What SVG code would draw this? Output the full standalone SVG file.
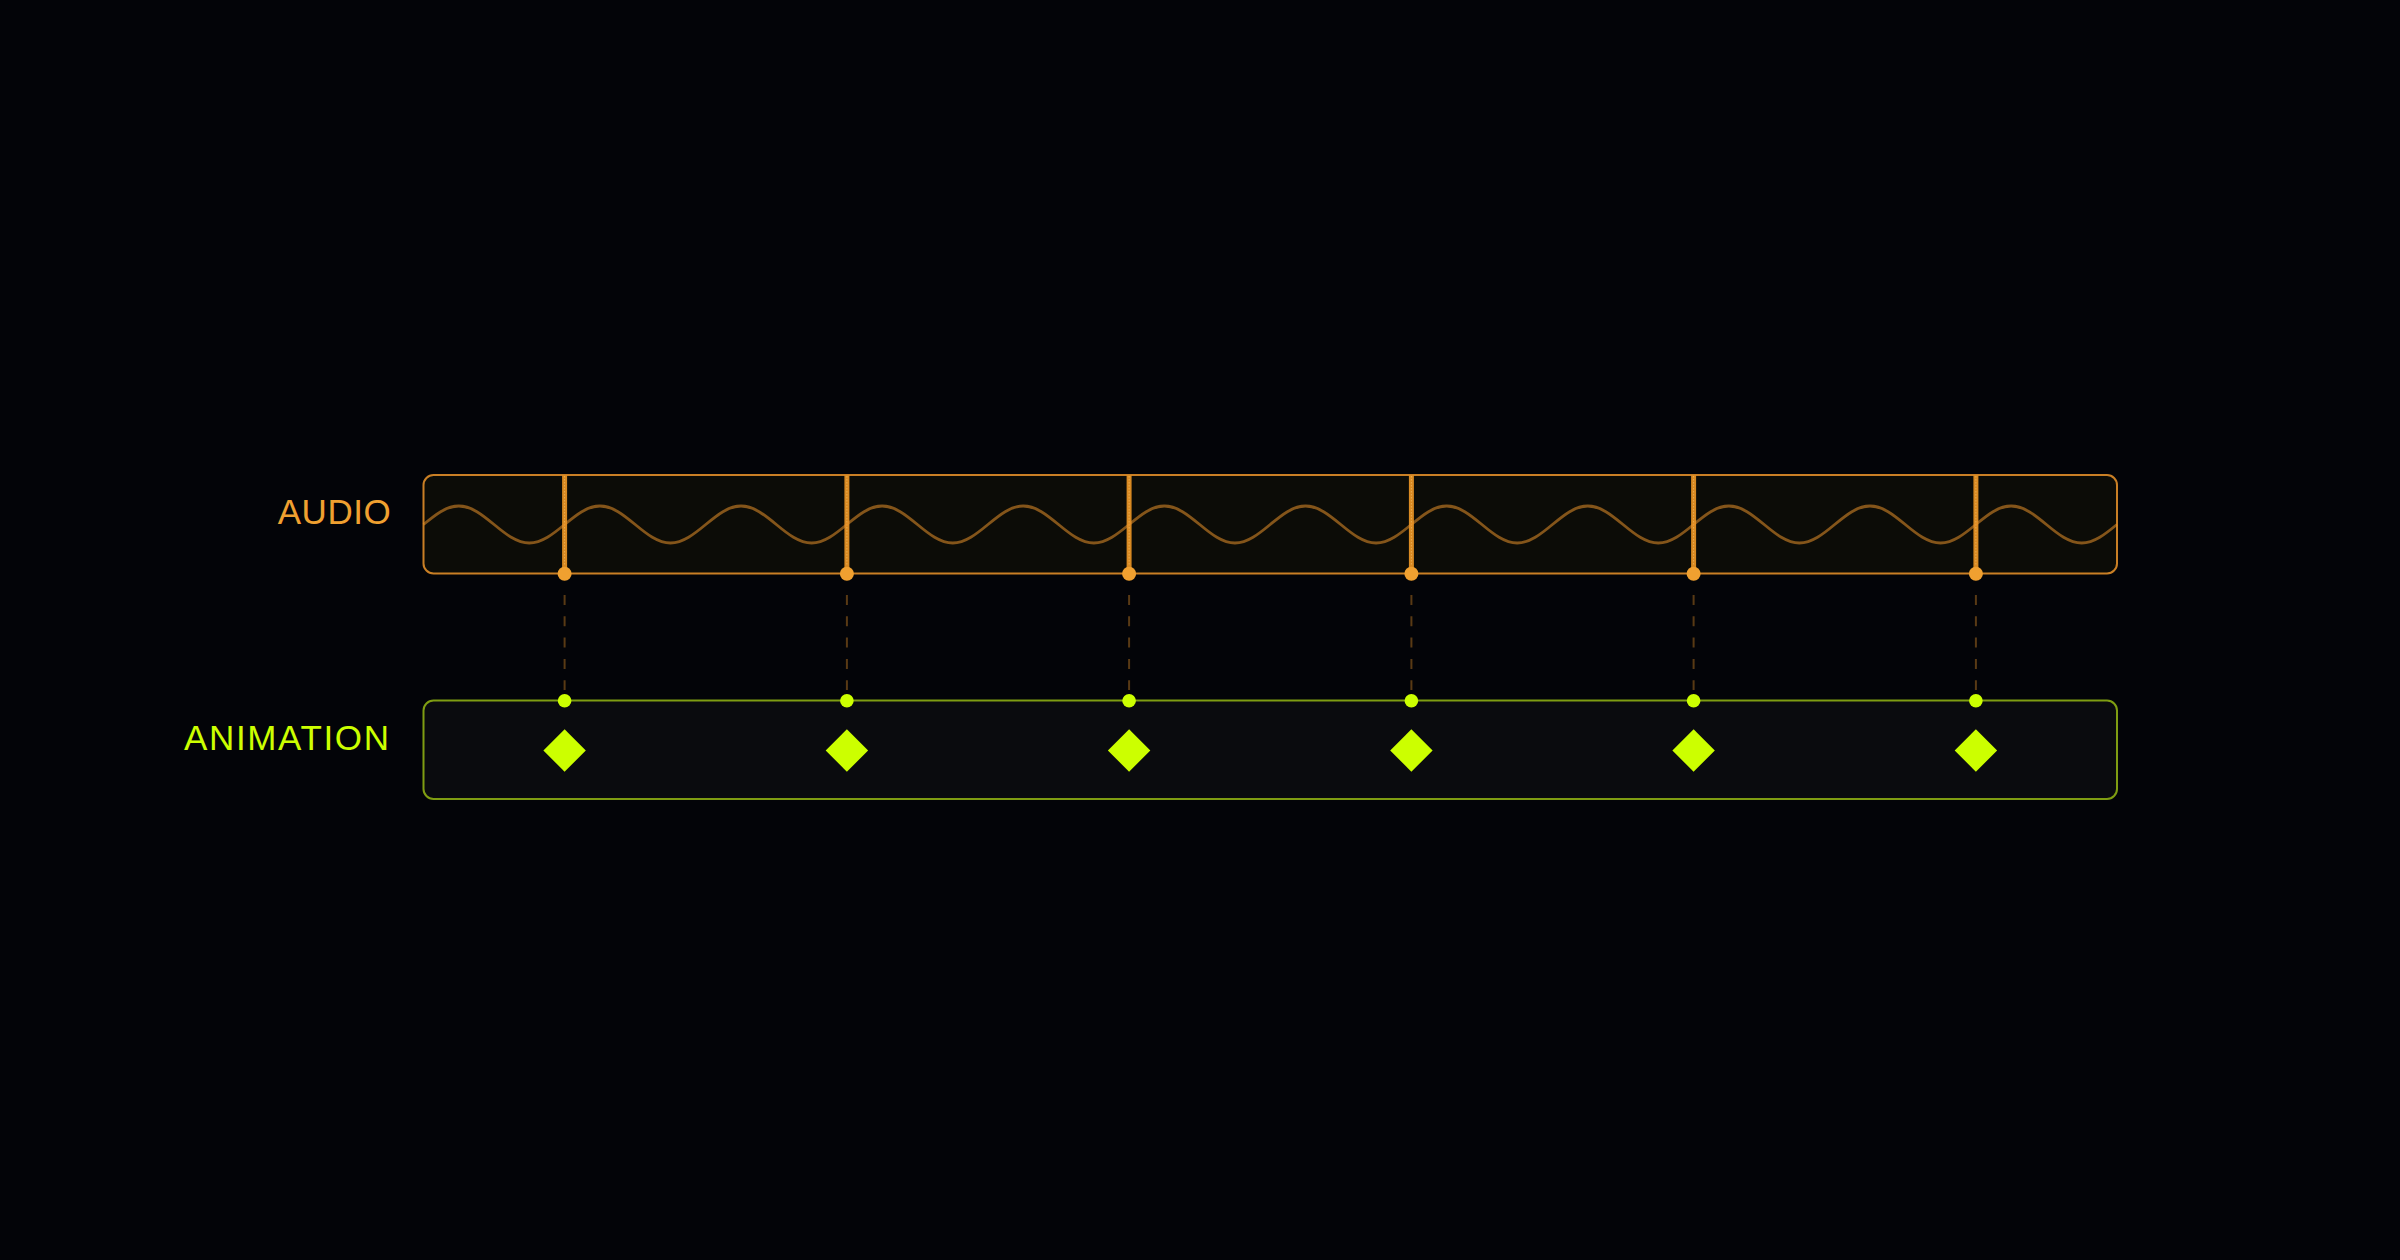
<svg xmlns="http://www.w3.org/2000/svg" width="2400" height="1260" viewBox="0 0 2400 1260">
  <defs>
    <style>
      .bg { fill: #030408; }
      .label { font-family: "Liberation Sans", "DejaVu Sans", sans-serif; font-size: 35px; text-anchor: end; }
      .audio-label { fill: #f0a030; }
      .anim-label { fill: #ccff00; }
      .audio-track { fill: #0c0c07; stroke: #c97f25; stroke-width: 2; }
      .anim-track { fill: #0a0b0e; stroke: #7f9d12; stroke-width: 2; }
      .wave { fill: none; stroke: #e8922a; stroke-opacity: 0.55; stroke-width: 2.8; }
      .beat { stroke: #d98a22; stroke-width: 5; }
      .beat-hi { stroke: #f8c878; stroke-width: 1; stroke-dasharray: 1.5 1.5; stroke-opacity: 0.55; }
      .beat-dot { fill: #f0a030; }
      .sync { stroke: #e8922a; stroke-opacity: 0.38; stroke-width: 2; stroke-dasharray: 10 11.3; }
      .key-dot { fill: #ccff00; }
      .key { fill: #ccff00; }
    </style>
  </defs>
  <rect class="bg" x="0" y="0" width="2400" height="1260"/>

  <g id="audio-track">
    <rect class="audio-track" x="423.5" y="475" width="1693.5" height="98.5" rx="10" ry="10"/>
    <text class="label audio-label" x="390.7" y="524" textLength="113" lengthAdjust="spacing">AUDIO</text>
  </g>

  <g id="animation-track">
    <rect class="anim-track" x="423.5" y="700.5" width="1693.5" height="98.5" rx="10" ry="10"/>
    <text class="label anim-label" x="389" y="749.5" textLength="205" lengthAdjust="spacing">ANIMATION</text>
  </g>

  <g id="beats">
    <line class="beat" x1="564.6" y1="475" x2="564.6" y2="573.5"/>
    <line class="beat" x1="846.9" y1="475" x2="846.9" y2="573.5"/>
    <line class="beat" x1="1129.1" y1="475" x2="1129.1" y2="573.5"/>
    <line class="beat" x1="1411.4" y1="475" x2="1411.4" y2="573.5"/>
    <line class="beat" x1="1693.6" y1="475" x2="1693.6" y2="573.5"/>
    <line class="beat" x1="1975.9" y1="475" x2="1975.9" y2="573.5"/>
    <line class="beat-hi" x1="564.6" y1="476" x2="564.6" y2="566"/>
    <line class="beat-hi" x1="846.9" y1="476" x2="846.9" y2="566"/>
    <line class="beat-hi" x1="1129.1" y1="476" x2="1129.1" y2="566"/>
    <line class="beat-hi" x1="1411.4" y1="476" x2="1411.4" y2="566"/>
    <line class="beat-hi" x1="1693.6" y1="476" x2="1693.6" y2="566"/>
    <line class="beat-hi" x1="1975.9" y1="476" x2="1975.9" y2="566"/>
  </g>

  <g id="waveform">
    <path class="wave" d="M423.5,524.5 c 11.505,-9.477 22.512,-18.5 35.28,-18.5
      s 23.775,9.023 35.28,18.5 s 22.512,18.5 35.28,18.5 s 23.775,-9.023 35.28,-18.5 s 22.512,-18.5 35.28,-18.5
      s 23.775,9.023 35.28,18.5 s 22.512,18.5 35.28,18.5 s 23.775,-9.023 35.28,-18.5 s 22.512,-18.5 35.28,-18.5
      s 23.775,9.023 35.28,18.5 s 22.512,18.5 35.28,18.5 s 23.775,-9.023 35.28,-18.5 s 22.512,-18.5 35.28,-18.5
      s 23.775,9.023 35.28,18.5 s 22.512,18.5 35.28,18.5 s 23.775,-9.023 35.28,-18.5 s 22.512,-18.5 35.28,-18.5
      s 23.775,9.023 35.28,18.5 s 22.512,18.5 35.28,18.5 s 23.775,-9.023 35.28,-18.5 s 22.512,-18.5 35.28,-18.5
      s 23.775,9.023 35.28,18.5 s 22.512,18.5 35.28,18.5 s 23.775,-9.023 35.28,-18.5 s 22.512,-18.5 35.28,-18.5
      s 23.775,9.023 35.28,18.5 s 22.512,18.5 35.28,18.5 s 23.775,-9.023 35.28,-18.5 s 22.512,-18.5 35.28,-18.5
      s 23.775,9.023 35.28,18.5 s 22.512,18.5 35.28,18.5 s 23.775,-9.023 35.28,-18.5 s 22.512,-18.5 35.28,-18.5
      s 23.775,9.023 35.28,18.5 s 22.512,18.5 35.28,18.5 s 23.775,-9.023 35.28,-18.5 s 22.512,-18.5 35.28,-18.5
      s 23.775,9.023 35.28,18.5 s 22.512,18.5 35.28,18.5 s 23.775,-9.023 35.28,-18.5 s 22.512,-18.5 35.28,-18.5
      s 23.775,9.023 35.28,18.5 s 22.512,18.5 35.28,18.5 s 23.775,-9.023 35.28,-18.5 s 22.512,-18.5 35.28,-18.5
      s 23.775,9.023 35.28,18.5 s 22.512,18.5 35.28,18.5 s 23.775,-9.023 35.28,-18.5"/>
  </g>

  <g id="connectors">
    <line class="sync" x1="564.6" y1="595" x2="564.6" y2="690"/>
    <line class="sync" x1="846.9" y1="595" x2="846.9" y2="690"/>
    <line class="sync" x1="1129.1" y1="595" x2="1129.1" y2="690"/>
    <line class="sync" x1="1411.4" y1="595" x2="1411.4" y2="690"/>
    <line class="sync" x1="1693.6" y1="595" x2="1693.6" y2="690"/>
    <line class="sync" x1="1975.9" y1="595" x2="1975.9" y2="690"/>
  </g>

  <g id="beat-dots">
    <circle class="beat-dot" cx="564.6" cy="573.7" r="7"/>
    <circle class="beat-dot" cx="846.9" cy="573.7" r="7"/>
    <circle class="beat-dot" cx="1129.1" cy="573.7" r="7"/>
    <circle class="beat-dot" cx="1411.4" cy="573.7" r="7"/>
    <circle class="beat-dot" cx="1693.6" cy="573.7" r="7"/>
    <circle class="beat-dot" cx="1975.9" cy="573.7" r="7"/>
  </g>

  <g id="key-dots">
    <circle class="key-dot" cx="564.6" cy="700.7" r="6.8"/>
    <circle class="key-dot" cx="846.9" cy="700.7" r="6.8"/>
    <circle class="key-dot" cx="1129.1" cy="700.7" r="6.8"/>
    <circle class="key-dot" cx="1411.4" cy="700.7" r="6.8"/>
    <circle class="key-dot" cx="1693.6" cy="700.7" r="6.8"/>
    <circle class="key-dot" cx="1975.9" cy="700.7" r="6.8"/>
  </g>

  <g id="keyframes">
    <rect class="key" x="-15" y="-15" width="30" height="30" transform="translate(564.6 750.5) rotate(45)"/>
    <rect class="key" x="-15" y="-15" width="30" height="30" transform="translate(846.9 750.5) rotate(45)"/>
    <rect class="key" x="-15" y="-15" width="30" height="30" transform="translate(1129.1 750.5) rotate(45)"/>
    <rect class="key" x="-15" y="-15" width="30" height="30" transform="translate(1411.4 750.5) rotate(45)"/>
    <rect class="key" x="-15" y="-15" width="30" height="30" transform="translate(1693.6 750.5) rotate(45)"/>
    <rect class="key" x="-15" y="-15" width="30" height="30" transform="translate(1975.9 750.5) rotate(45)"/>
  </g>
</svg>
